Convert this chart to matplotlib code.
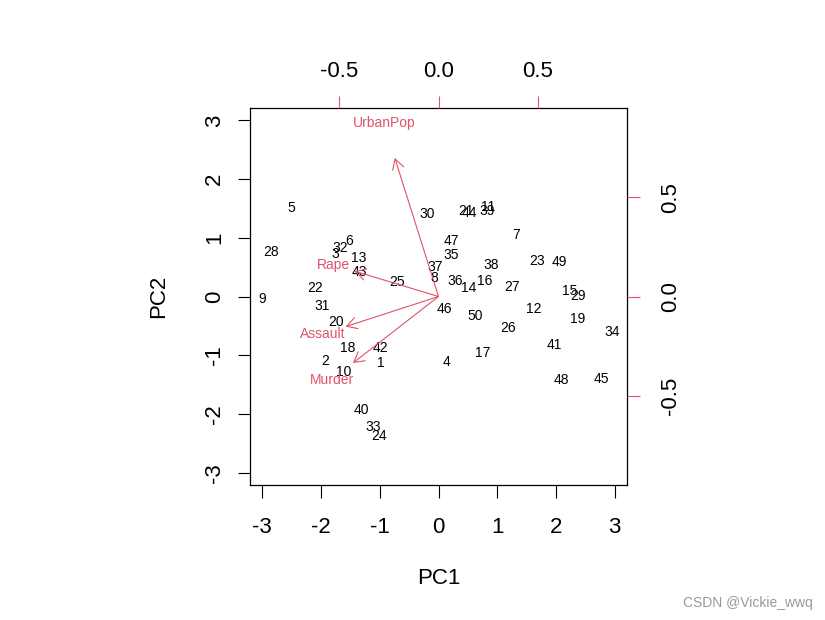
import matplotlib
matplotlib.use("Agg")
import matplotlib.pyplot as plt

plt.rcParams['font.family'] = ['Liberation Sans', 'DejaVu Sans']
plt.rcParams['axes.unicode_minus'] = False

# PC scores (observation labels are row numbers)
obs_id = [5, 28, 9, 22, 31, 20, 18, 2, 10, 42, 1, 40, 33, 24,
          6, 32, 3, 13, 43, 25,
          30, 21, 44, 39, 11, 7, 47, 35, 37, 8, 36, 14, 16, 38, 27, 23, 49, 15, 29, 12, 19, 34,
          46, 50, 26, 41, 17, 4, 48, 45]
pc1 = [-2.50, -2.85, -3.00, -2.10, -1.98, -1.75, -1.55, -1.93, -1.62, -0.99, -0.99, -1.31, -1.12, -1.01,
       -1.52, -1.67, -1.75, -1.36, -1.35, -0.70,
       -0.19, 0.46, 0.53, 0.83, 0.85, 1.33, 0.22, 0.22, -0.05, -0.07, 0.29, 0.51, 0.78, 0.89, 1.26, 1.67, 2.06, 2.23, 2.37, 1.62, 2.37, 2.96,
       0.10, 0.63, 1.18, 1.98, 0.75, 0.14, 2.10, 2.78]
pc2 = [1.50, 0.75, -0.05, 0.14, -0.17, -0.44, -0.88, -1.09, -1.29, -0.87, -1.14, -1.94, -2.23, -2.38,
       0.95, 0.82, 0.73, 0.65, 0.41, 0.24,
       1.41, 1.45, 1.43, 1.46, 1.53, 1.05, 0.94, 0.71, 0.51, 0.31, 0.27, 0.14, 0.26, 0.54, 0.17, 0.61, 0.58, 0.09, 0.00, -0.22, -0.39, -0.61,
       -0.22, -0.34, -0.54, -0.83, -0.97, -1.12, -1.43, -1.41]

# variable loadings (label positions; arrows drawn to 0.8x)
var_names = ["Murder", "Assault", "UrbanPop", "Rape"]
load1 = [-0.540, -0.586, -0.276, -0.530]
load2 = [-0.420, -0.190, 0.875, 0.160]

red = "#DF536B"
lim = 3.21
lim2 = 0.952

fig = plt.figure(figsize=(8.25, 6.2), dpi=100)
pos = [250/825, 1-485/620, 377/825, 377/620]
ax = fig.add_axes(pos)
ax.set_xlim(-lim, lim)
ax.set_ylim(-lim, lim)
for i, lab in enumerate(obs_id):
    ax.text(pc1[i], pc2[i], str(lab), ha='center', va='center', fontsize=10, color='black')
ax.set_xticks([-3, -2, -1, 0, 1, 2, 3])
ax.set_yticks([-3, -2, -1, 0, 1, 2, 3])
ax.tick_params(direction='out', length=9, width=0.8, labelsize=16)
ax.tick_params(axis='x', pad=14)
ax.tick_params(axis='y', pad=9)
plt.setp(ax.get_yticklabels(), rotation=90, va='center')
ax.set_xlabel("PC1", fontsize=16, labelpad=22)
ax.set_ylabel("PC2", fontsize=16, labelpad=25)
for s in ax.spines.values():
    s.set_linewidth(0.9)

ax2 = fig.add_axes(pos, frameon=False)
ax2.set_xlim(-lim2, lim2)
ax2.set_ylim(-lim2, lim2)
ax2.xaxis.tick_top()
ax2.yaxis.tick_right()
ax2.set_xticks([-0.5, 0.0, 0.5])
ax2.set_xticklabels(["-0.5", "0.0", "0.5"])
ax2.set_yticks([-0.5, 0.0, 0.5])
ax2.set_yticklabels(["-0.5", "0.0", "0.5"])
ax2.tick_params(direction='out', length=9, width=0.8, color=red, labelsize=16, labelcolor='black')
ax2.tick_params(axis='x', pad=10)
ax2.tick_params(axis='y', pad=15)
plt.setp(ax2.get_yticklabels(), rotation=90, va='center')
ax2.patch.set_alpha(0)

for i, name in enumerate(var_names):
    ax2.annotate("", xy=(0.8*load1[i], 0.8*load2[i]), xytext=(0, 0),
                 arrowprops=dict(arrowstyle='->,head_length=0.4,head_width=0.23',
                                 color=red, lw=0.8, mutation_scale=18,
                                 shrinkA=0, shrinkB=0))
    ax2.text(load1[i], load2[i], name, ha='center', va='center', fontsize=10, color=red)

fig.text(0.985, 0.027, "CSDN @Vickie_wwq", ha='right', va='center', fontsize=10, color='#999999')

fig.savefig("out.png", dpi=100)
